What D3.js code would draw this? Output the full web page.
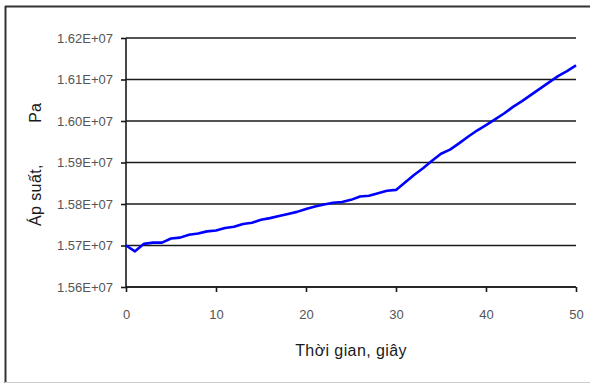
<!DOCTYPE html>
<html>
<head>
<meta charset="utf-8">
<script src="https://cdn.jsdelivr.net/npm/d3@7"></script>
<style>
  body { margin: 0; background: #fff; }
  svg text { font-family: "Liberation Sans", Arial, sans-serif; }
</style>
</head>
<body>
<svg id="SVG_CONTAINER" width="590" height="385"></svg>
<script>
// time, s
const seconds = d3.range(0, 51);
// pressure, Pa
const pressure = [
    15700000, 15686000, 15704000, 15707000, 15707000, 15717000, 15719000, 15726000, 15729000, 15734000,
    15736000, 15742000, 15745000, 15752000, 15755000, 15762000, 15766000, 15771000, 15776000, 15781000,
    15788000, 15794000, 15799000, 15803000, 15805000, 15810000, 15818000, 15820000, 15826000, 15832000,
    15834000, 15852000, 15870000, 15886000, 15904000, 15921000, 15931000, 15946000, 15962000, 15977000,
    15990000, 16004000, 16018000, 16034000, 16048000, 16063000, 16078000, 16093000, 16108000, 16120000,
    16134000
];
const xTicks = [0, 10, 20, 30, 40, 50];
const yTicks = [15600000, 15700000, 15800000, 15900000, 16000000, 16100000, 16200000];
const yTickLabels = ["1.56E+07", "1.57E+07", "1.58E+07", "1.59E+07", "1.60E+07", "1.61E+07", "1.62E+07"];
const xTitle = "Thời gian, giây";
const yTitleMain = "Áp suất,";
const yTitleUnit = "Pa";

const MARGIN = { LEFT: 126, RIGHT: 14, TOP: 38, BOTTOM: 98 };
const width = 590, height = 385;

let svg = d3.select("#SVG_CONTAINER");

// outer frame
svg.append("line").attr("x1", 5.5).attr("y1", 6).attr("x2", 5.5).attr("y2", 383)
    .attr("stroke", "#333").attr("stroke-width", 2);
svg.append("line").attr("x1", 5).attr("y1", 6.5).attr("x2", 590).attr("y2", 6.5)
    .attr("stroke", "#333").attr("stroke-width", 2);
svg.append("line").attr("x1", 5).attr("y1", 382.5).attr("x2", 590).attr("y2", 382.5)
    .attr("stroke", "#ccc").attr("stroke-width", 1);

let xScale = d3.scaleLinear()
    .domain([0, 50])
    .range([MARGIN.LEFT, width - MARGIN.RIGHT]);

let yScale = d3.scaleLinear()
    .domain([15600000, 16200000])
    .range([height - MARGIN.BOTTOM, MARGIN.TOP]);

let chart = svg.append("g").attr("class", "chart");

// gridlines
chart.append("g")
    .attr("class", "grid")
    .selectAll("line")
    .data(yTicks)
    .enter()
    .append("line")
    .attr("x1", xScale(0))
    .attr("x2", xScale(50))
    .attr("y1", d => yScale(d))
    .attr("y2", d => yScale(d))
    .attr("stroke", "#1a1a1a")
    .attr("stroke-width", 1.6);

// axes
let xAxis = d3.axisBottom(xScale)
    .tickValues(xTicks)
    .tickSize(5)
    .tickPadding(18);

let gx = chart.append("g")
    .attr("class", "x_axis")
    .attr("transform", "translate(0," + yScale(15600000) + ")")
    .call(xAxis);

let yAxis = d3.axisLeft(yScale)
    .tickValues(yTicks)
    .tickFormat((d, i) => yTickLabels[i])
    .tickSize(5)
    .tickPadding(8);

let gy = chart.append("g")
    .attr("class", "y_axis")
    .attr("transform", "translate(" + xScale(0) + ",0)")
    .call(yAxis);

[gx, gy].forEach(g => {
    g.select(".domain").attr("stroke", "#1a1a1a").attr("stroke-width", 1.6);
    g.selectAll(".tick line").attr("stroke", "#1a1a1a").attr("stroke-width", 1.6);
    g.selectAll(".tick text")
        .attr("fill", "#555")
        .style("font-size", "13px")
        .style("font-family", "'Liberation Sans', Arial, sans-serif");
});
gy.select(".domain").attr("d", "M0," + yScale(16200000) + "V" + yScale(15600000));
gx.select(".domain").attr("d", "M" + xScale(0) + ",0H" + xScale(50));

// data line
chart.append("path")
    .datum(seconds)
    .attr("d", d3.line()
        .x(d => xScale(d))
        .y((d, i) => yScale(pressure[i])))
    .attr("fill", "none")
    .attr("stroke", "#0000ff")
    .attr("stroke-width", 2.6)
    .attr("stroke-linejoin", "round");

// axis titles
chart.append("text")
    .attr("x", (xScale(0) + xScale(50)) / 2)
    .attr("y", 356)
    .attr("text-anchor", "middle")
    .style("font-size", "16px")
    .style("letter-spacing", "0.4px")
    .attr("fill", "#1a1a1a")
    .text(xTitle);

chart.append("text")
    .attr("transform", "translate(41,226) rotate(-90)")
    .attr("text-anchor", "start")
    .style("font-size", "16px")
    .style("letter-spacing", "0.4px")
    .attr("fill", "#1a1a1a")
    .text(yTitleMain);

chart.append("text")
    .attr("transform", "translate(41,113) rotate(-90)")
    .attr("text-anchor", "middle")
    .style("font-size", "16px")
    .attr("fill", "#1a1a1a")
    .text(yTitleUnit);
</script>
</body>
</html>
